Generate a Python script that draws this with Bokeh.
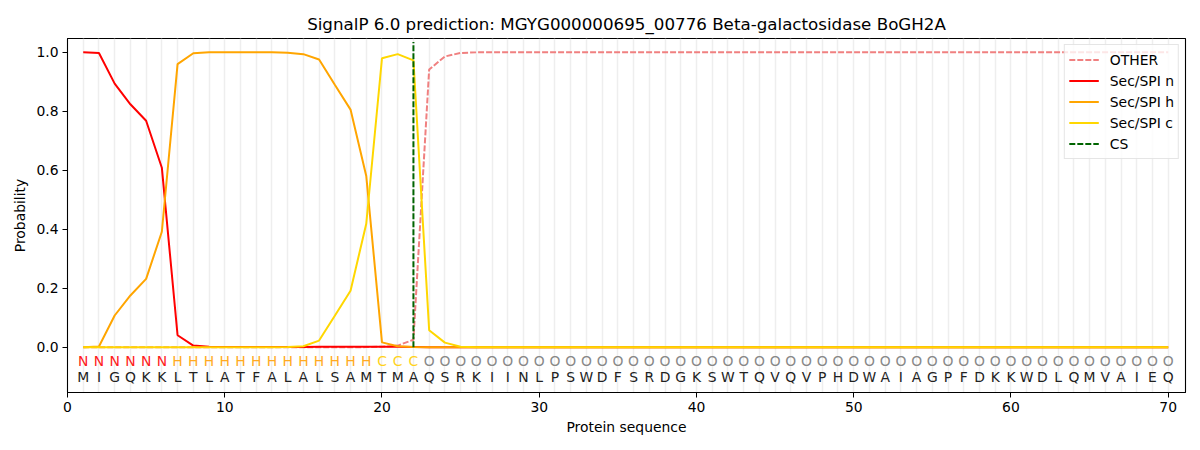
from bokeh.plotting import figure
from bokeh.models import ColumnDataSource, FixedTicker, Legend, LegendItem, Range1d, CustomJSTickFormatter
from bokeh.core.properties import value
from bokeh.embed import file_html
from bokeh.resources import INLINE

title = "SignalP 6.0 prediction: MGYG000000695_00776 Beta-galactosidase BoGH2A"

sequence = list("MIGQKKLTLATFALALSAMTMAQSRKIINLPSWDFSRDGKSWTQVQVPHDWAIAGPFDKKWDLQMVAIEQ")
labels = list("NNNNNNHHHHHHHHHHHHHCCC" + "OOOOOOOOOOOOOOOOOOOOOOOOOOOOOOOOOOOOOOOOOOOOOOOO")
positions = list(range(1, len(sequence) + 1))

other = [0.000, 0.000, 0.000, 0.000, 0.000, 0.000, 0.000, 0.000, 0.000, 0.000,
         0.000, 0.000, 0.000, 0.000, 0.000, 0.000, 0.000, 0.000, 0.001, 0.002,
         0.006, 0.026, 0.942, 0.986, 0.998, 1.000, 1.000, 1.000, 1.000, 1.000,
         1.000, 1.000, 1.000, 1.000, 1.000, 1.000, 1.000, 1.000, 1.000, 1.000,
         1.000, 1.000, 1.000, 1.000, 1.000, 1.000, 1.000, 1.000, 1.000, 1.000,
         1.000, 1.000, 1.000, 1.000, 1.000, 1.000, 1.000, 1.000, 1.000, 1.000,
         1.000, 1.000, 1.000, 1.000, 1.000, 1.000, 1.000, 1.000, 1.000, 1.000]

sec_n = [1.000, 0.998, 0.894, 0.824, 0.768, 0.609, 0.041, 0.006, 0.002, 0.001,
         0.001, 0.001, 0.001, 0.001, 0.001, 0.002, 0.002, 0.002, 0.002, 0.002,
         0.002, 0.001, 0.000, 0.000, 0.000, 0.000, 0.000, 0.000, 0.000, 0.000,
         0.000, 0.000, 0.000, 0.000, 0.000, 0.000, 0.000, 0.000, 0.000, 0.000,
         0.000, 0.000, 0.000, 0.000, 0.000, 0.000, 0.000, 0.000, 0.000, 0.000,
         0.000, 0.000, 0.000, 0.000, 0.000, 0.000, 0.000, 0.000, 0.000, 0.000,
         0.000, 0.000, 0.000, 0.000, 0.000, 0.000, 0.000, 0.000, 0.000, 0.000]

sec_h = [0.000, 0.003, 0.108, 0.176, 0.232, 0.392, 0.960, 0.997, 1.000, 1.000,
         1.000, 1.000, 1.000, 0.999, 0.994, 0.976, 0.890, 0.806, 0.581, 0.017,
         0.004, 0.001, 0.000, 0.000, 0.000, 0.000, 0.000, 0.000, 0.000, 0.000,
         0.000, 0.000, 0.000, 0.000, 0.000, 0.000, 0.000, 0.000, 0.000, 0.000,
         0.000, 0.000, 0.000, 0.000, 0.000, 0.000, 0.000, 0.000, 0.000, 0.000,
         0.000, 0.000, 0.000, 0.000, 0.000, 0.000, 0.000, 0.000, 0.000, 0.000,
         0.000, 0.000, 0.000, 0.000, 0.000, 0.000, 0.000, 0.000, 0.000, 0.000]

sec_c = [0.000, 0.000, 0.000, 0.000, 0.000, 0.000, 0.000, 0.000, 0.000, 0.000,
         0.000, 0.000, 0.000, 0.001, 0.004, 0.023, 0.107, 0.192, 0.419, 0.980,
         0.994, 0.973, 0.058, 0.016, 0.002, 0.000, 0.000, 0.000, 0.000, 0.000,
         0.000, 0.000, 0.000, 0.000, 0.000, 0.000, 0.000, 0.000, 0.000, 0.000,
         0.000, 0.000, 0.000, 0.000, 0.000, 0.000, 0.000, 0.000, 0.000, 0.000,
         0.000, 0.000, 0.000, 0.000, 0.000, 0.000, 0.000, 0.000, 0.000, 0.000,
         0.000, 0.000, 0.000, 0.000, 0.000, 0.000, 0.000, 0.000, 0.000, 0.000]

cs_position = [22, 22]
cs_extent = [0.0, 1.035]

x_ticks = [0, 10, 20, 30, 40, 50, 60, 70]
y_ticks = [0.0, 0.2, 0.4, 0.6, 0.8, 1.0]

label_colors = {"N": "#ff2020", "H": "#ffaa22", "C": "#ffd21a", "O": "#888888"}

FONT = "DejaVu Sans"

p = figure(width=1192, height=442, output_backend="svg", toolbar_location=None,
           x_range=Range1d(0, 71.1), y_range=Range1d(-0.153, 1.047),
           min_border_left=67, min_border_right=7, min_border_top=38, min_border_bottom=50,
           title=title)

p.title.text_font = FONT
p.title.text_font_size = "16.7px"
p.title.text_font_style = "normal"
p.title.align = "center"
p.title.text_color = "black"

p.outline_line_color = "black"
p.outline_line_width = 1.1
p.background_fill_color = "white"

p.ygrid.grid_line_color = None
p.xgrid.ticker = FixedTicker(ticks=positions)
p.xgrid.grid_line_color = "#eeeeee"
p.xgrid.grid_line_width = 1.5

for ax in (p.xaxis[0], p.yaxis[0]):
    ax.axis_line_color = "black"
    ax.major_tick_line_color = "black"
    ax.major_tick_out = 5
    ax.major_tick_in = 0
    ax.minor_tick_line_color = None
    ax.major_label_text_font = FONT
    ax.major_label_text_font_size = "13.9px"
    ax.major_label_text_color = "black"
    ax.axis_label_text_font = FONT
    ax.axis_label_text_font_size = "13.9px"
    ax.axis_label_text_font_style = "normal"
    ax.axis_label_text_color = "black"

p.xaxis.ticker = FixedTicker(ticks=x_ticks)
p.yaxis.ticker = FixedTicker(ticks=y_ticks)
p.yaxis.formatter = CustomJSTickFormatter(code="return tick.toFixed(1);")
p.xaxis.axis_label = "Protein sequence"
p.yaxis.axis_label = "Probability"
p.xaxis.major_label_standoff = 4
p.yaxis.major_label_standoff = 4
p.xaxis.axis_label_standoff = 4
p.yaxis.axis_label_standoff = 5

src = ColumnDataSource(dict(x=positions, other=other, n=sec_n, h=sec_h, c=sec_c))

r_other = p.line("x", "other", source=src, line_color="#f08080", line_width=2, line_dash="6 2")
r_n = p.line("x", "n", source=src, line_color="#ff0000", line_width=2)
r_h = p.line("x", "h", source=src, line_color="#ffa500", line_width=2)
r_c = p.line("x", "c", source=src, line_color="#ffd700", line_width=2)
r_cs = p.line(cs_position, cs_extent, line_color="#006400", line_width=2, line_dash="6 2")

txt = ColumnDataSource(dict(
    x=positions,
    lab=labels,
    aa=sequence,
    lab_y=[-0.047] * len(positions),
    aa_y=[-0.1] * len(positions),
    col=[label_colors[l] for l in labels],
))
p.text(x="x", y="lab_y", text="lab", source=txt, text_color="col",
       text_align="center", text_baseline="middle",
       text_font=value(FONT), text_font_size="13.9px")
p.text(x="x", y="aa_y", text="aa", source=txt, text_color="#222222",
       text_align="center", text_baseline="middle",
       text_font=value(FONT), text_font_size="13.9px")

legend = Legend(items=[
    LegendItem(label="OTHER", renderers=[r_other]),
    LegendItem(label="Sec/SPI n", renderers=[r_n]),
    LegendItem(label="Sec/SPI h", renderers=[r_h]),
    LegendItem(label="Sec/SPI c", renderers=[r_c]),
    LegendItem(label="CS", renderers=[r_cs]),
], location="top_right")
legend.label_text_font = FONT
legend.label_text_font_size = "13.9px"
legend.label_text_color = "black"
legend.glyph_width = 30
legend.glyph_height = 21
legend.label_height = 21
legend.label_standoff = 11
legend.spacing = 0
legend.padding = 4
legend.margin = 6
legend.border_line_color = "#cccccc"
legend.border_line_width = 1
legend.background_fill_color = "white"
legend.background_fill_alpha = 0.8
p.add_layout(legend)

open("out.html", "w").write(file_html(p, INLINE))
